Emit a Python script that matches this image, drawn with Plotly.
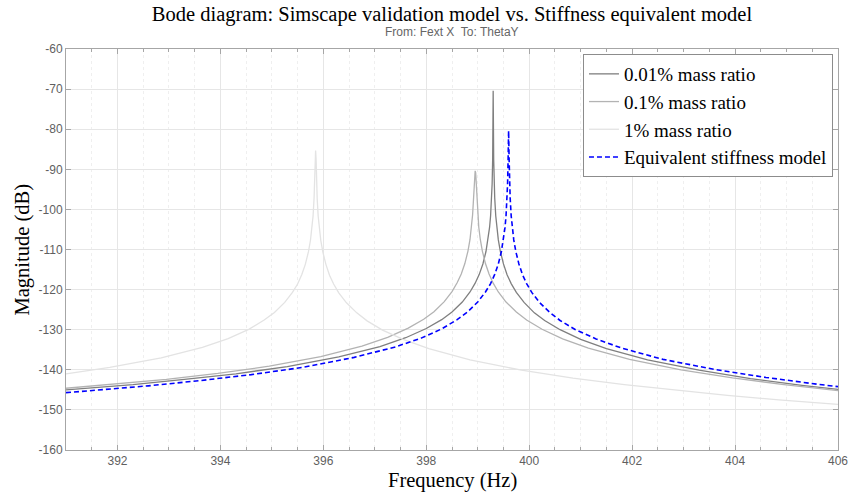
import plotly.graph_objects as go

# frequency (Hz) / magnitude (dB)
f_001 = [391.0, 392.3, 393.3, 394.3, 395.3, 396.3, 397.1, 397.6, 398.0, 398.3, 398.5, 398.7, 398.85,
         398.95, 399.03, 399.1, 399.16, 399.2, 399.23, 399.25, 399.27, 399.28, 399.29, 399.3,
         399.31, 399.32, 399.33, 399.35, 399.37, 399.4, 399.44, 399.5, 399.57, 399.65, 399.75,
         399.9, 400.1, 400.3, 400.6, 401.0, 401.5, 402.3, 403.3, 404.3, 405.3, 406.0]
mag_001 = [-145.0, -143.7, -142.4, -141.0, -139.2, -136.8, -134.2, -132.0, -129.7, -127.5, -125.6, -123.1, -120.6,
           -118.4, -116.2, -113.6, -110.5, -107.6, -104.5, -101.6, -97.1, -93.6, -87.6, -70.4,
           -87.6, -93.6, -97.1, -101.6, -104.5, -107.6, -110.5, -113.6, -116.3, -118.5, -120.7,
           -123.2, -125.8, -127.7, -130.0, -132.4, -134.7, -137.5, -140.1, -142.2, -143.9, -144.9]

f_01 = [391.0, 391.95, 392.95, 393.95, 394.95, 395.95, 396.75, 397.25, 397.65, 397.95, 398.15, 398.35,
        398.5, 398.6, 398.68, 398.75, 398.81, 398.85, 398.88, 398.9, 398.92, 398.93, 398.94, 398.95,
        398.96, 398.97, 398.98, 399.0, 399.02, 399.05, 399.09, 399.15, 399.22, 399.3, 399.4, 399.55,
        399.75, 399.95, 400.25, 400.65, 401.15, 401.95, 402.95, 403.95, 404.95, 406.0]
mag_01 = [-144.6, -143.6, -142.4, -140.9, -139.1, -136.7, -134.1, -131.9, -129.6, -127.4, -125.5, -123.0,
          -120.5, -118.3, -116.1, -113.5, -110.4, -107.5, -104.4, -101.4, -97.0, -93.5, -90.9, -90.4,
          -90.9, -93.5, -97.0, -101.5, -104.4, -107.5, -110.4, -113.5, -116.1, -118.4, -120.6, -123.1,
          -125.6, -127.6, -129.9, -132.3, -134.6, -137.4, -140.0, -142.0, -143.7, -145.2]

f_1 = [391.0, 391.85, 392.85, 393.65, 394.15, 394.55, 394.85, 395.05, 395.25, 395.4, 395.5, 395.58,
       395.65, 395.71, 395.75, 395.78, 395.8, 395.82, 395.83, 395.84, 395.85, 395.86, 395.87, 395.88,
       395.9, 395.92, 395.95, 395.99, 396.05, 396.12, 396.2, 396.3, 396.45, 396.65, 396.85, 397.15,
       397.55, 398.05, 398.85, 399.85, 400.85, 401.85, 402.85, 403.85, 404.85, 406.0]
mag_1 = [-141.0, -139.4, -137.0, -134.4, -132.2, -129.9, -127.6, -125.7, -123.2, -120.7, -118.6, -116.3,
         -113.7, -110.6, -107.7, -104.6, -101.7, -97.2, -93.7, -87.7, -85.3, -87.7, -93.7, -97.2,
         -101.7, -104.6, -107.7, -110.6, -113.7, -116.4, -118.6, -120.8, -123.3, -125.8, -127.8, -130.1,
         -132.4, -134.7, -137.5, -140.1, -142.1, -143.7, -145.1, -146.4, -147.5, -148.6]

f_eq = [391.0, 392.6, 393.6, 394.6, 395.6, 396.6, 397.4, 397.9, 398.3, 398.6, 398.8, 399.0, 399.15,
        399.25, 399.33, 399.4, 399.46, 399.5, 399.53, 399.55, 399.57, 399.58, 399.59, 399.6,
        399.61, 399.62, 399.63, 399.65, 399.67, 399.7, 399.74, 399.8, 399.87, 399.95, 400.05,
        400.2, 400.4, 400.6, 400.9, 401.3, 401.8, 402.6, 403.6, 404.6, 405.6, 406.0]
mag_eq = [-145.7, -144.0, -142.7, -141.2, -139.4, -136.9, -134.3, -132.1, -129.8, -127.5, -125.6, -123.1, -120.6,
          -118.5, -116.2, -113.6, -110.5, -107.6, -104.5, -101.6, -97.1, -93.6, -87.6, -80.4,
          -87.6, -93.6, -97.1, -101.6, -104.5, -107.6, -110.5, -113.6, -116.3, -118.5, -120.7,
          -123.2, -125.7, -127.7, -130.0, -132.3, -134.6, -137.4, -139.9, -141.9, -143.6, -144.2]

y_ticks = [-160, -150, -140, -130, -120, -110, -100, -90, -80, -70, -60]
y_labels = ["-160", "-150", "-140", "-130", "-120", "-110", "-100", "-90", "-80", "-70", "-60"]
x_ticks = [392, 394, 396, 398, 400, 402, 404, 406]
x_labels = ["392", "394", "396", "398", "400", "402", "404", "406"]

SERIF = "Liberation Serif"
SANS = "Liberation Sans"

fig = go.Figure()
fig.add_trace(go.Scatter(x=f_001, y=mag_001, mode="lines", name="0.01% mass ratio",
                         line=dict(color="#7f7f7f", width=1.3)))
fig.add_trace(go.Scatter(x=f_01, y=mag_01, mode="lines", name="0.1% mass ratio",
                         line=dict(color="#b3b3b3", width=1.3)))
fig.add_trace(go.Scatter(x=f_1, y=mag_1, mode="lines", name="1% mass ratio",
                         line=dict(color="#e3e3e3", width=1.3)))
fig.add_trace(go.Scatter(x=f_eq, y=mag_eq, mode="lines", name="Equivalent stiffness model",
                         line=dict(color="#0000ff", width=1.6, dash="5px,3px")))

axis_common = dict(showline=True, linecolor="#a6a6a6", linewidth=1, mirror="allticks",
                   ticks="inside", ticklen=5, tickcolor="#a6a6a6", zeroline=False,
                   gridcolor="#e6e6e6", gridwidth=1, ticklabeloverflow="allow", automargin=False,
                   tickfont=dict(family=SANS, size=12, color="#5f5f5f"))

fig.update_xaxes(range=[391, 406.0001], tickvals=x_ticks, ticktext=x_labels,
                 minor=dict(dtick=0.5, tick0=391, ticks="inside", ticklen=3, tickcolor="#a6a6a6",
                            showgrid=True, gridcolor="#efefef", griddash="dot"),
                 **axis_common)
fig.update_yaxes(range=[-160, -60], tickvals=y_ticks, ticktext=y_labels, **axis_common)

fig.update_layout(
    width=848, height=492,
    margin=dict(l=66, r=10, t=49, b=42),
    plot_bgcolor="white", paper_bgcolor="white",
    title=dict(text="Bode diagram: Simscape validation model vs. Stiffness equivalent model",
               x=0.5, xref="paper", y=1 - 14 / 492, yref="container", yanchor="middle",
               font=dict(family=SERIF, size=20.5, color="black")),
    legend=dict(x=0.9935, xanchor="right", y=0.9875, yanchor="top",
                bgcolor="white", bordercolor="#8c8c8c", borderwidth=1,
                font=dict(family=SERIF, size=19, color="black"),
                itemwidth=30, tracegroupgap=0),
    showlegend=True,
)

fig.add_annotation(text="From: Fext X  To: ThetaY", xref="paper", yref="paper",
                   x=0.5, y=(450 - 32) / 401, yanchor="middle", showarrow=False,
                   font=dict(family=SANS, size=12, color="#666666"))
fig.add_annotation(text="Frequency (Hz)", xref="paper", yref="paper",
                   x=0.5, y=(450 - 480) / 401, yanchor="middle", showarrow=False,
                   font=dict(family=SERIF, size=20.5, color="black"))
fig.add_annotation(text="Magnitude (dB)", xref="paper", yref="paper", textangle=-90,
                   x=(22 - 66) / 772, xanchor="center", y=0.5, yanchor="middle", showarrow=False,
                   font=dict(family=SERIF, size=20.5, color="black"))

# page body has a default 8px margin, drop it so the chart fills the window
fig.write_html("out.html", config={"displayModeBar": False},
               post_script="document.body.style.margin='0';")
